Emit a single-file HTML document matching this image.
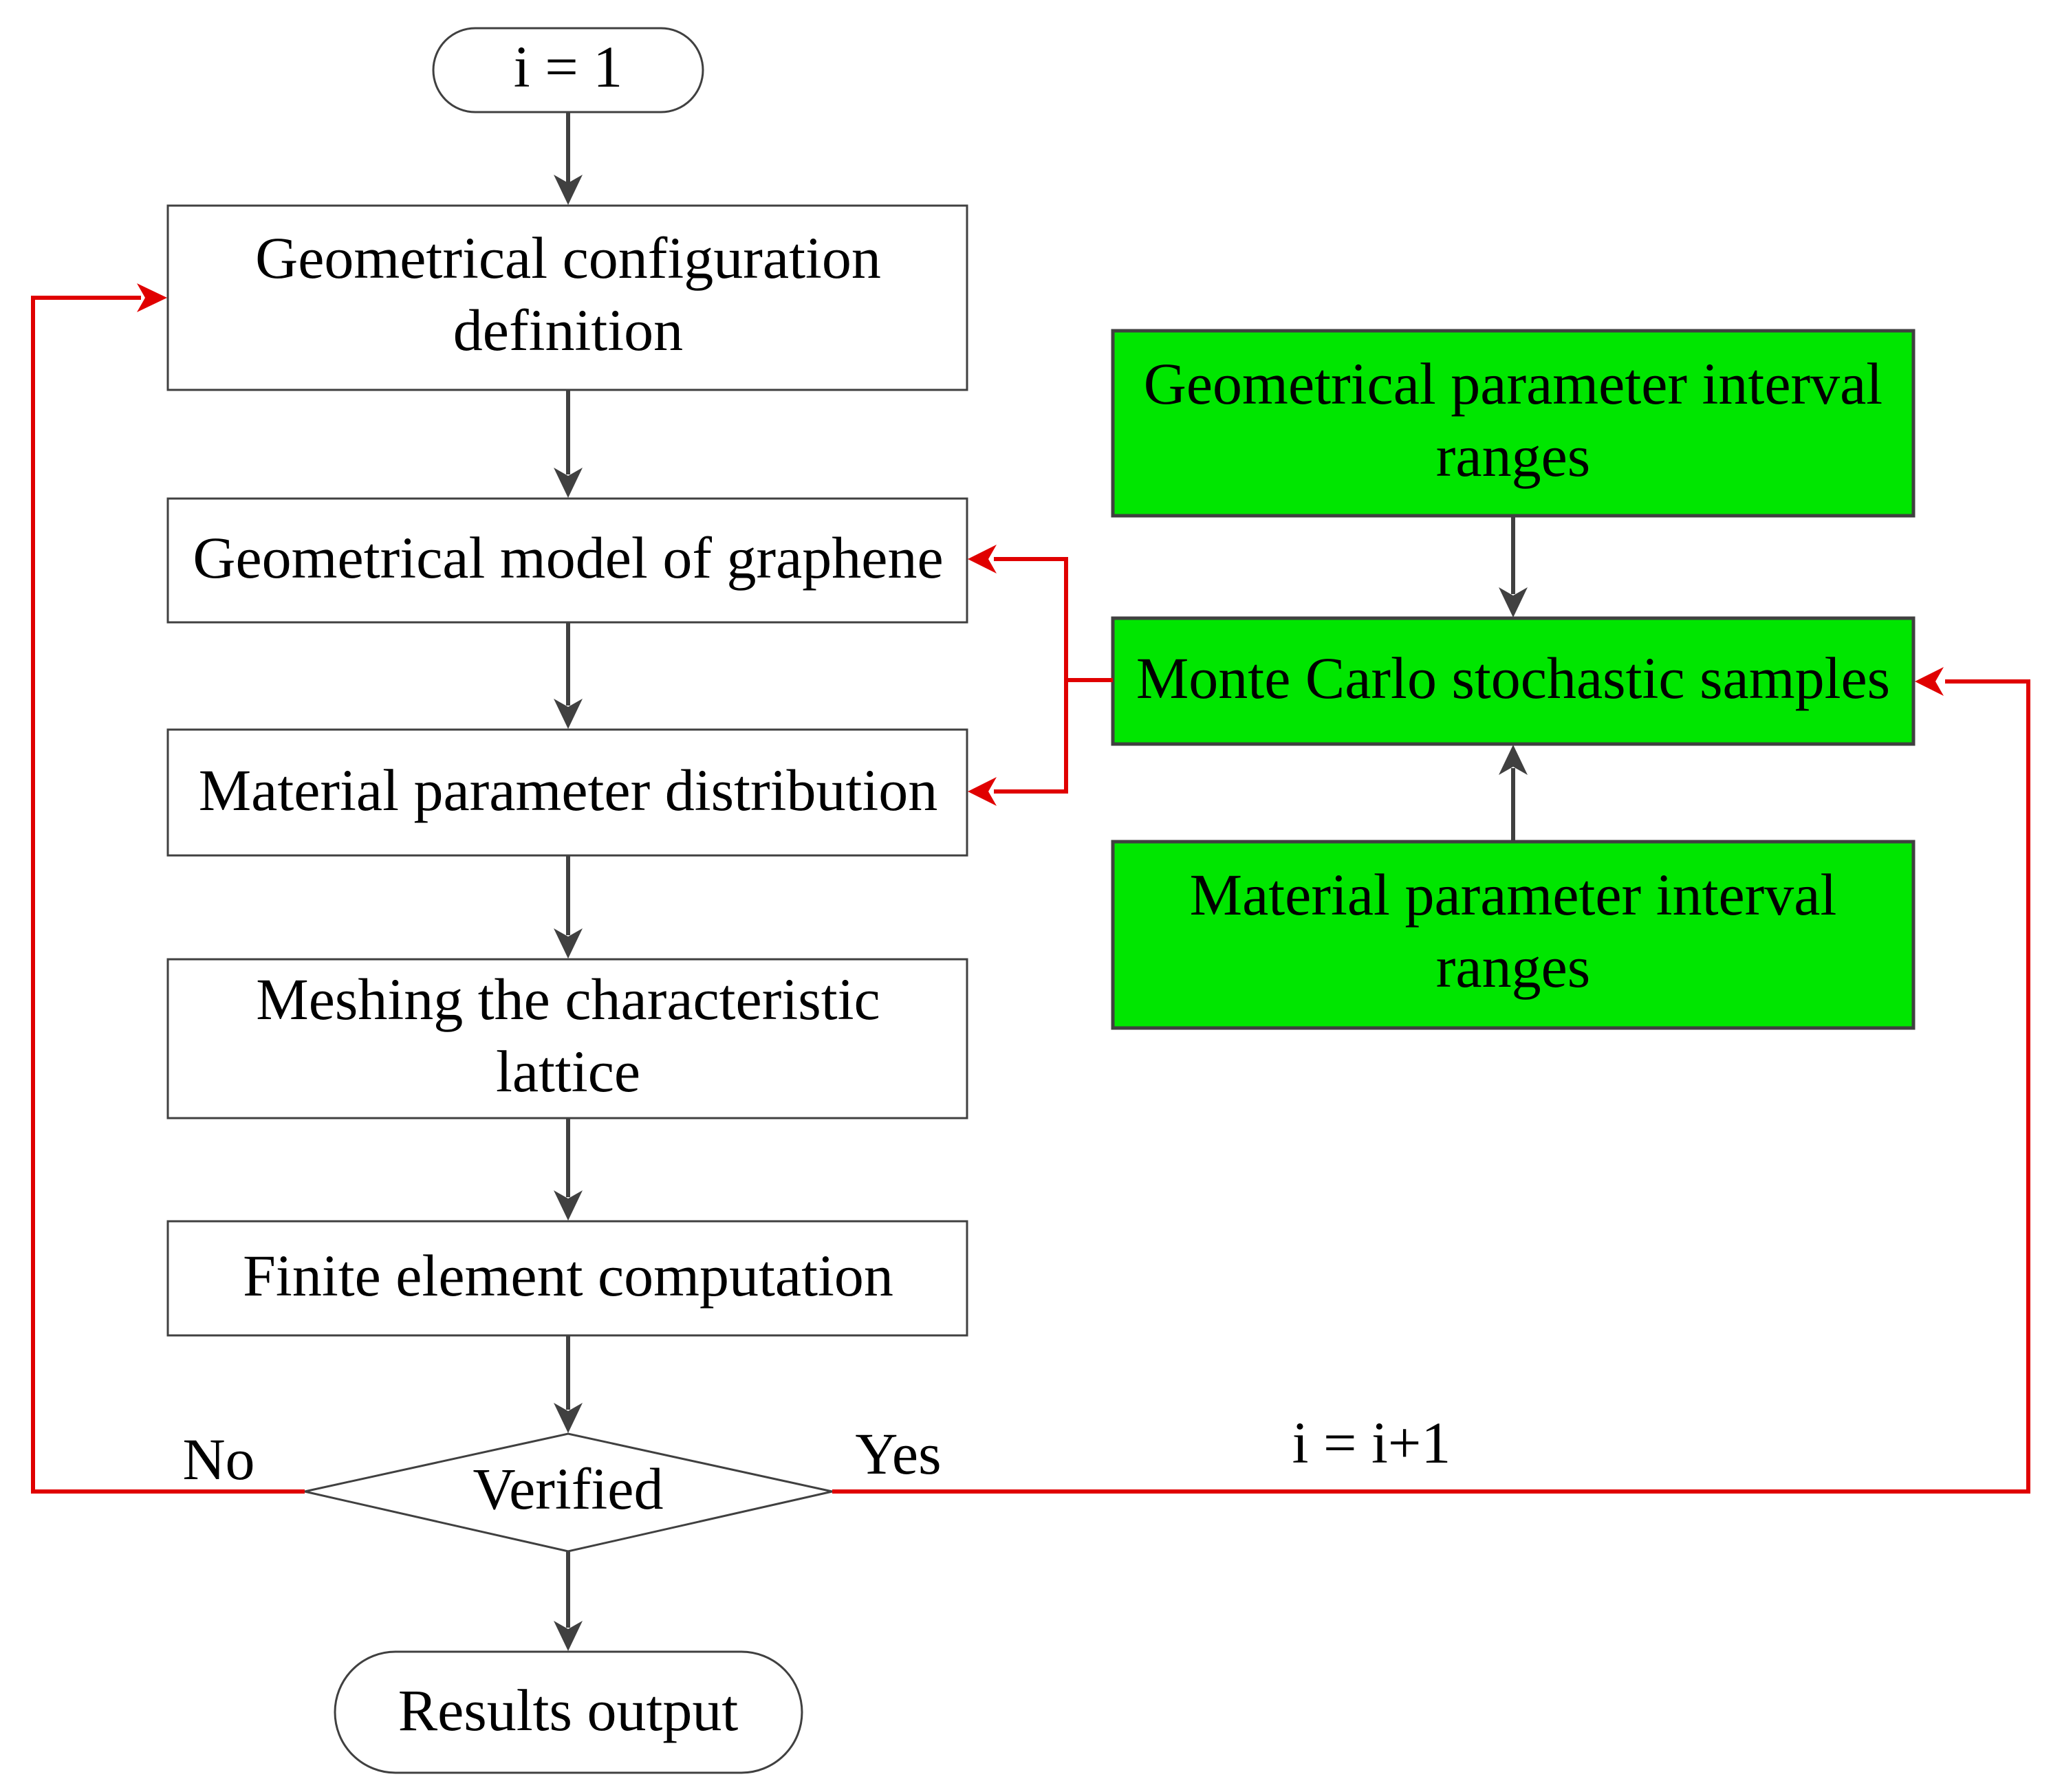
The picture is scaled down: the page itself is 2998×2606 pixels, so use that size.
<!DOCTYPE html>
<html><head><meta charset="utf-8"><style>
html,body{margin:0;padding:0;background:#fff;}
svg{display:block;}
text{font-family:"Liberation Serif",serif;font-size:86px;fill:#000;text-anchor:middle;}
</style></head><body>
<svg width="2998" height="2606" viewBox="0 0 2998 2606" xmlns="http://www.w3.org/2000/svg">
<g fill="none" stroke="#404040" stroke-width="3">
<rect x="630" y="41" width="392" height="122" rx="61"/>
<rect x="244" y="299" width="1162" height="268"/>
<rect x="244" y="725" width="1162" height="180"/>
<rect x="244" y="1061" width="1162" height="183"/>
<rect x="244" y="1395" width="1162" height="231"/>
<rect x="244" y="1776" width="1162" height="166"/>
<polygon points="443,2169 826,2085 1210,2169 826,2256"/>
<rect x="487" y="2402" width="679" height="176" rx="88"/>
</g>
<g fill="#00e600" stroke="#404040" stroke-width="5">
<rect x="1618" y="481" width="1164" height="269"/>
<rect x="1618" y="899" width="1164" height="183"/>
<rect x="1618" y="1224" width="1164" height="271"/>
</g>
<g stroke="#404040" stroke-width="6" fill="none">
<line x1="826" y1="163" x2="826" y2="270"/>
<line x1="826" y1="567" x2="826" y2="690"/>
<line x1="826" y1="905" x2="826" y2="1026"/>
<line x1="826" y1="1244" x2="826" y2="1360"/>
<line x1="826" y1="1626" x2="826" y2="1741"/>
<line x1="826" y1="1942" x2="826" y2="2050"/>
<line x1="826" y1="2256" x2="826" y2="2367"/>
<line x1="2200" y1="750" x2="2200" y2="864"/>
<line x1="2200" y1="1224" x2="2200" y2="1117"/>
</g>
<g fill="#404040">
<polygon points="826,298 805,254 826,266 847,254"/>
<polygon points="826,724 805,680 826,692 847,680"/>
<polygon points="826,1060 805,1016 826,1028 847,1016"/>
<polygon points="826,1394 805,1350 826,1362 847,1350"/>
<polygon points="826,1775 805,1731 826,1743 847,1731"/>
<polygon points="826,2084 805,2040 826,2052 847,2040"/>
<polygon points="826,2401 805,2357 826,2369 847,2357"/>
<polygon points="2200,898 2179,854 2200,866 2221,854"/>
<polygon points="2200,1083 2179,1127 2200,1115 2221,1127"/>
</g>
<g stroke="#e00000" stroke-width="6" fill="none">
<polyline points="443,2169 48,2169 48,433 205,433"/>
<polyline points="1210,2169 2949,2169 2949,991 2828,991"/>
<line x1="1618" y1="989" x2="1550" y2="989"/>
<polyline points="1445,813 1550,813 1550,1151 1445,1151"/>
</g>
<g fill="#e00000">
<polygon points="243,433 199,412 211,433 199,454"/>
<polygon points="1407,813 1449,792 1437,813 1449,834"/>
<polygon points="1407,1151 1449,1130 1437,1151 1449,1172"/>
<polygon points="2784,991 2826,970 2814,991 2826,1012"/>
</g>
<text x="826" y="126">i = 1</text>
<text x="826" y="404">Geometrical configuration</text>
<text x="826" y="509">definition</text>
<text x="826" y="840">Geometrical model of graphene</text>
<text x="826" y="1178">Material parameter distribution</text>
<text x="826" y="1482">Meshing the characteristic</text>
<text x="826" y="1587">lattice</text>
<text x="826" y="1884">Finite element computation</text>
<text x="826" y="2194">Verified</text>
<text x="826" y="2516">Results output</text>
<text x="2200" y="587">Geometrical parameter interval</text>
<text x="2200" y="692">ranges</text>
<text x="2200" y="1015">Monte Carlo stochastic samples</text>
<text x="2200" y="1330">Material parameter interval</text>
<text x="2200" y="1435">ranges</text>
<text x="318" y="2151">No</text>
<text x="1306" y="2143">Yes</text>
<text x="1994" y="2127">i = i+1</text>
</svg>
</body></html>
